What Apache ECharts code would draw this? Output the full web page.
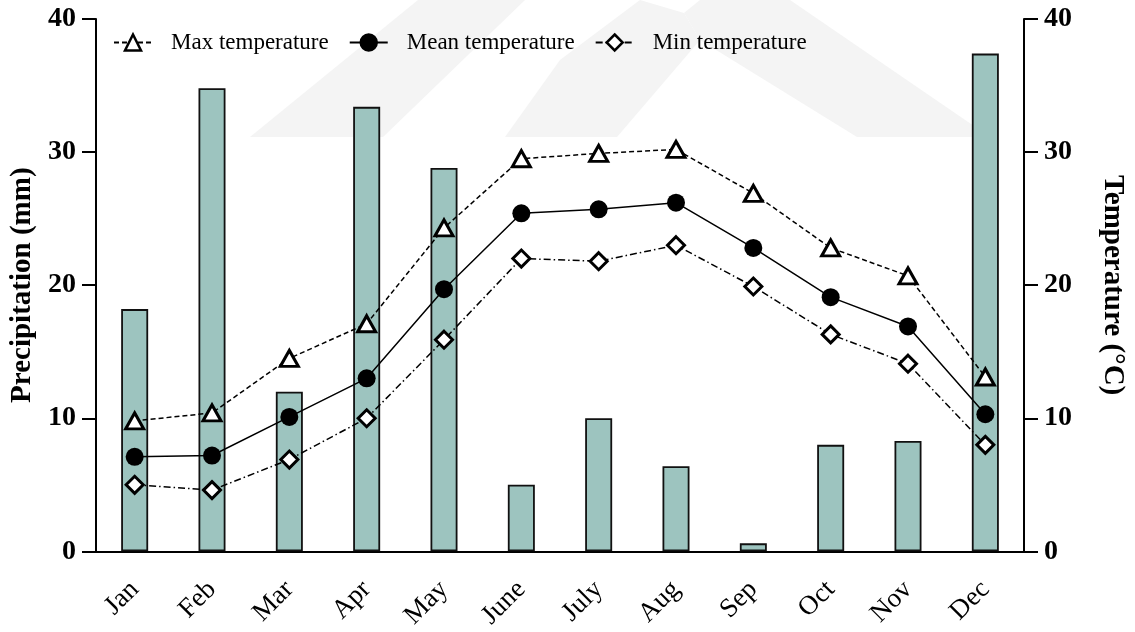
<!DOCTYPE html>
<html>
<head>
<meta charset="utf-8">
<script src="https://cdn.jsdelivr.net/npm/echarts@6/dist/echarts.min.js"></script>
<style>
html,body{margin:0;padding:0;background:#fff;}
#chart{width:1135px;height:632px;}
</style>
</head>
<body>
<div id="chart"></div>
<script>
const months = ['Jan','Feb','Mar','Apr','May','June','July','Aug','Sep','Oct','Nov','Dec'];
const precipitation = [18.2, 34.8, 12.0, 33.4, 28.8, 5.0, 10.0, 6.4, 0.6, 8.0, 8.3, 37.4];
const maxTemp  = [9.8, 10.4, 14.5, 17.1, 24.3, 29.5, 29.9, 30.2, 26.9, 22.8, 20.7, 13.1];
const meanTemp = [7.1, 7.2, 10.1, 13.0, 19.7, 25.4, 25.7, 26.2, 22.8, 19.1, 16.9, 10.3];
const minTemp  = [5.0, 4.6, 6.9, 10.0, 15.9, 22.0, 21.8, 23.0, 19.9, 16.3, 14.1, 8.0];
const yTicks = [0, 10, 20, 30, 40];

const FONT = 'Liberation Serif, Times New Roman, serif';
const chart = echarts.init(document.getElementById('chart'), null, {renderer: 'canvas'});

function yAxisCfg(pos, name, rot, gap) {
  return {
    type: 'value', position: pos, min: yTicks[0], max: yTicks[yTicks.length - 1], interval: 10,
    name: name, nameLocation: 'middle', nameRotate: rot, nameGap: gap,
    nameTextStyle: {fontFamily: FONT, fontWeight: 'bold', fontSize: 29, color: '#000'},
    axisLine: {show: true, lineStyle: {color: '#000', width: 2}},
    axisTick: {show: true, length: 14, lineStyle: {color: '#000', width: 2}},
    axisLabel: {fontFamily: FONT, fontWeight: 'bold', fontSize: 28, color: '#000', margin: 20},
    splitLine: {show: false}
  };
}

const wm = '#f4f4f4';
chart.setOption({
  backgroundColor: '#fff',
  animation: false,
  graphic: [
    {type: 'polygon', z: -10, silent: true, shape: {points: [[250,137],[383,137],[525,0],[418,0]]}, style: {fill: wm}},
    {type: 'polygon', z: -10, silent: true, shape: {points: [[505,137],[617,137],[700,40],[684,13],[640,0],[560,60]]}, style: {fill: wm}},
    {type: 'polygon', z: -10, silent: true, shape: {points: [[684,13],[700,0],[790,0],[990,137],[857,137],[700,40]]}, style: {fill: wm}}
  ],
  grid: {left: 96, right: 107, top: 19, bottom: 80, containLabel: false},
  legend: {
    data: ['Max temperature', 'Mean temperature', 'Min temperature'],
    left: 108, top: 26, itemWidth: 38, itemHeight: 20, itemGap: 20,
    itemStyle: {borderWidth: 2.5},
    textStyle: {fontFamily: FONT, fontSize: 23, color: '#000', padding: [0, 0, 0, 14]}
  },
  xAxis: {
    type: 'category', data: months, boundaryGap: true,
    axisLine: {lineStyle: {color: '#000', width: 2}},
    axisTick: {alignWithLabel: true, length: 13, lineStyle: {color: '#000', width: 2}},
    axisLabel: {rotate: 45, fontFamily: FONT, fontSize: 27, color: '#000', margin: 34, interval: 0}
  },
  yAxis: [
    yAxisCfg('left', 'Precipitation (mm)', 90, 58),
    yAxisCfg('right', 'Temperature (°C)', -90, 74)
  ],
  series: [
    {
      name: 'Precipitation', type: 'bar', data: precipitation, yAxisIndex: 0, barWidth: 27, z: 1,
      itemStyle: {color: '#9dc4bf', borderColor: '#111', borderWidth: 1.8}
    },
    {
      name: 'Max temperature', type: 'line', data: maxTemp, yAxisIndex: 1, z: 5,
      symbol: 'triangle', symbolSize: [18, 16],
      itemStyle: {color: '#fff', borderColor: '#000', borderWidth: 3},
      lineStyle: {color: '#000', width: 1.5, type: [5, 3]}
    },
    {
      name: 'Mean temperature', type: 'line', data: meanTemp, yAxisIndex: 1, z: 5,
      symbol: 'circle', symbolSize: 18,
      itemStyle: {color: '#000', borderColor: '#000', borderWidth: 0},
      lineStyle: {color: '#000', width: 1.5, type: 'solid'}
    },
    {
      name: 'Min temperature', type: 'line', data: minTemp, yAxisIndex: 1, z: 5,
      symbol: 'diamond', symbolSize: 17,
      itemStyle: {color: '#fff', borderColor: '#000', borderWidth: 3},
      lineStyle: {color: '#000', width: 1.5, type: [7, 3, 1.5, 3]}
    }
  ]
});
</script>
</body>
</html>
